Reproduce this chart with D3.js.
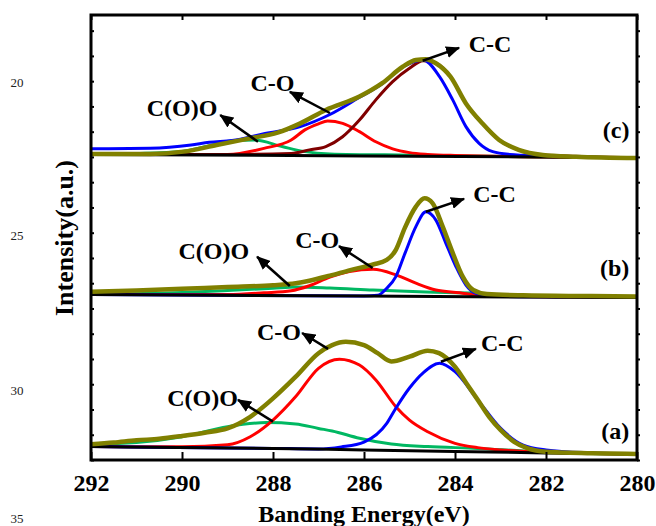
<!DOCTYPE html>
<html>
<head>
<meta charset="utf-8">
<script src="https://cdn.jsdelivr.net/npm/d3@7"></script>
<style>
  body { margin: 0; background: #fff; }
  svg { display: block; }
</style>
</head>
<body>
<svg id="xps-chart" width="656" height="526"></svg>
<script>
const energyTicks = [292, 290, 288, 286, 284, 282, 280];

// panel (a) - [binding energy, intensity]
const baselineA = [[292, 53], [288, 46], [286, 40], [284, 34], [282, 28], [280, 24]];
const ccA = [[292, 53], [288, 46], [287, 44], [286.5, 52], [286, 71], [285.5, 145], [285.3, 205], [285, 285], [284.7, 345], [284.34, 383], [284, 350], [283.5, 238], [283, 126], [282.5, 59], [282, 40], [281, 28], [280, 24]];
const coA = [[292, 53], [290, 52], [289, 60], [288.5, 92], [288, 158], [287.5, 251], [287, 363], [286.54, 399], [286.1, 376], [285.74, 317], [285.3, 211], [285, 158], [284.6, 112], [284, 66], [283.5, 49], [283, 40], [282, 31], [280, 24]];
const cooA = [[292, 62], [291, 69], [290, 92], [289, 132], [288.14, 148], [287.5, 143], [287, 125], [286.7, 115], [286.1, 86], [285.4, 63], [284.6, 53], [283.5, 46], [282.5, 36], [281.5, 28], [280, 24]];
const envelopeA = [[292, 62], [291.5, 69], [291, 78], [290.5, 84], [290, 95], [289.5, 108], [289, 125], [288.5, 171], [288, 244], [287.5, 330], [287, 423], [286.7, 455], [286.4, 468], [286, 455], [285.7, 423], [285.4, 390], [285, 409], [284.6, 433], [284.35, 423], [284, 369], [283.75, 304], [283.5, 238], [283.25, 171], [283, 119], [282.7, 72], [282.4, 46], [282, 33], [281, 27], [280, 24]];

// panel (b)
const baselineB = [[292, 655], [286, 649], [280, 643]];
const ccB = [[292, 655], [286, 649], [285.7, 652], [285.5, 680], [285.3, 726], [285.1, 818], [284.86, 924], [284.64, 983], [284.42, 950], [284.2, 858], [283.98, 766], [283.76, 693], [283.54, 660], [283.2, 649], [282, 646], [280, 643]];
const coB = [[292, 655], [289, 655], [288.2, 662], [287.6, 670], [287.2, 690], [286.75, 724], [286.32, 746], [285.8, 755], [285.3, 733], [284.86, 700], [284.42, 673], [283.9, 662], [283.5, 652], [282.5, 647], [280, 643]];
const cooB = [[292, 656], [290, 663], [289, 671], [288, 680], [287.5, 685], [286.75, 681], [285.8, 673], [284.64, 665], [283.54, 660], [283, 653], [282, 647], [280, 643]];
const envelopeB = [[292, 666], [291, 671], [290, 678], [289, 685], [288, 692], [287.5, 700], [287.2, 710], [286.75, 730], [286.3, 752], [285.8, 774], [285.5, 792], [285.3, 832], [285.1, 920], [284.86, 1003], [284.67, 1036], [284.49, 1016], [284.27, 924], [284.05, 820], [283.83, 726], [283.6, 673], [283.3, 657], [282.5, 652], [281, 649], [280, 647]];

// panel (c)
const baselineC = [[292, 1210], [286, 1204], [280, 1197]];
const ccC = [[292, 1210], [289, 1210], [287.6, 1214], [287.2, 1228], [286.84, 1241], [286.47, 1280], [286.1, 1346], [285.74, 1426], [285.37, 1498], [285, 1551], [284.7, 1581], [284.42, 1571], [284.1, 1518], [283.76, 1412], [283.4, 1333], [283.03, 1267], [282.6, 1228], [282.07, 1208], [280, 1197]];
const ccRawC = [[292, 1232], [290.7, 1234], [289.8, 1247], [289.4, 1258], [288.9, 1265], [288.2, 1292], [287.4, 1320], [286.75, 1368], [286.1, 1436], [285.6, 1490], [285.15, 1556], [284.7, 1584], [284.34, 1518], [284.05, 1426], [283.76, 1320], [283.47, 1254], [283.17, 1221], [282.8, 1210], [282.07, 1204], [281.3, 1200], [280, 1197]];
const coC = [[292, 1210], [289, 1210], [288.2, 1234], [287.6, 1267], [287.3, 1307], [287, 1331], [286.8, 1342], [286.47, 1333], [286.1, 1300], [285.74, 1260], [285.37, 1232], [285, 1217], [284.6, 1210], [284, 1206], [280, 1197]];
const cooC = [[292, 1211], [291, 1214], [290, 1222], [289.5, 1240], [288.9, 1264], [288.4, 1267], [287.8, 1241], [287.3, 1221], [286.75, 1212], [285, 1207], [282, 1200], [280, 1197]];
const envelopeC = [[292, 1212], [290.7, 1212], [289.97, 1221], [289.24, 1247], [288.5, 1274], [287.9, 1296], [287.4, 1333], [286.84, 1386], [286.1, 1439], [285.6, 1492], [285.15, 1557], [284.86, 1584], [284.64, 1587], [284.42, 1571], [284.1, 1518], [283.76, 1412], [283.4, 1333], [283.03, 1267], [282.6, 1228], [282.07, 1208], [281.34, 1201], [280, 1196]];

// drawing order: components, background line, envelope on top
const panels = [
    { name: "a", curves: [["coo", cooA], ["co", coA], ["cc", ccA], ["baseline", baselineA], ["envelope", envelopeA]] },
    { name: "b", curves: [["coo", cooB], ["co", coB], ["cc", ccB], ["baseline", baselineB], ["envelope", envelopeB]] },
    { name: "c", curves: [["coo", cooC], ["co", coC], ["cc2", ccC], ["cc", ccRawC], ["baseline", baselineC], ["envelope", envelopeC]] }
];

const annotations = [
    { label: "C-O", text: [287.87, 477], tail: [286.79, 440], head: [287.36, 503] },
    { label: "C(O)O", text: [289.55, 214], tail: [288.0, 152], head: [288.77, 238] },
    { label: "C-C", text: [282.96, 432], tail: [284.31, 389], head: [283.54, 440] },
    { label: "C(O)O", text: [289.3, 796], tail: [287.63, 689], head: [288.35, 805] },
    { label: "C-O", text: [287.03, 840], tail: [285.81, 760], head: [286.55, 847] },
    { label: "C-C", text: [283.13, 1022], tail: [284.64, 983], head: [283.8, 1034] },
    { label: "C(O)O", text: [290.0, 1362], tail: [288.33, 1260], head: [289.16, 1366] },
    { label: "C-O", text: [288.01, 1461], tail: [286.75, 1374], head: [287.63, 1458] },
    { label: "C-C", text: [283.23, 1616], tail: [284.71, 1581], head: [283.91, 1632] }
];
const panelLabels = [["(a)", 280.48, 83], ["(b)", 280.49, 729], ["(c)", 280.46, 1275]];
const strayNumbers = [["20", 87], ["25", 240], ["30", 395], ["35", 523]];

const curveStyle = {
    baseline: { color: "#000000", width: 3 },
    coo: { color: "#00b862", width: 3 },
    co: { color: "#ff0000", width: 3 },
    cc2: { color: "#800000", width: 3 },
    cc: { color: "#0000ff", width: 3 },
    envelope: { color: "#808000", width: 4.5 }
};

const font = "'Liberation Serif', 'Times New Roman', serif";

const svg = d3.select("#xps-chart");
const margin = { top: 15, right: 19, bottom: 66, left: 91 };
const width = 656 - margin.left - margin.right;
const height = 526 - margin.top - margin.bottom;

const x = d3.scaleLinear().domain([292, 280]).range([0, width]);
const y = d3.scaleLinear().domain([0, 1762]).range([height, 0]);

svg.append("defs").append("clipPath")
    .attr("id", "plot-clip")
    .append("rect")
    .attr("width", width)
    .attr("height", height);

svg.select("defs").append("marker")
    .attr("id", "arrow-head")
    .attr("markerUnits", "userSpaceOnUse")
    .attr("viewBox", "0 0 14 12")
    .attr("markerWidth", 14)
    .attr("markerHeight", 12)
    .attr("refX", 13)
    .attr("refY", 6)
    .attr("orient", "auto")
    .append("path")
    .attr("d", "M0,0 L14,6 L0,12 Z")
    .attr("fill", "#000");

const g = svg.append("g").attr("transform", `translate(${margin.left},${margin.top})`);

const line = d3.line()
    .x(d => x(d[0]))
    .y(d => y(d[1]))
    .curve(d3.curveMonotoneX);

const plot = g.append("g").attr("clip-path", "url(#plot-clip)");

panels.forEach(panel => {
    plot.append("g")
        .attr("class", `panel-${panel.name}`)
        .selectAll("path")
        .data(panel.curves)
        .join("path")
        .attr("d", d => line(d[1]))
        .attr("fill", "none")
        .attr("stroke", d => curveStyle[d[0]].color)
        .attr("stroke-width", d => curveStyle[d[0]].width)
        .attr("stroke-linejoin", "round")
        .attr("stroke-linecap", "round");
});

// Annotations
g.selectAll(".arrow")
    .data(annotations)
    .join("line")
    .attr("class", "arrow")
    .attr("x1", d => x(d.tail[0]))
    .attr("y1", d => y(d.tail[1]))
    .attr("x2", d => x(d.head[0]))
    .attr("y2", d => y(d.head[1]))
    .attr("stroke", "#000")
    .attr("stroke-width", 2.5)
    .attr("marker-end", "url(#arrow-head)");

g.selectAll(".peak-label")
    .data(annotations)
    .join("text")
    .attr("class", "peak-label")
    .attr("x", d => x(d.text[0]))
    .attr("y", d => y(d.text[1]))
    .attr("text-anchor", "middle")
    .attr("font-family", font)
    .attr("font-weight", "bold")
    .attr("font-size", 24)
    .text(d => d.label);

g.selectAll(".panel-label")
    .data(panelLabels)
    .join("text")
    .attr("class", "panel-label")
    .attr("x", d => x(d[1]))
    .attr("y", d => y(d[2]))
    .attr("text-anchor", "middle")
    .attr("font-family", font)
    .attr("font-weight", "bold")
    .attr("font-size", 24)
    .text(d => d[0]);

// Axes
const bottomAxis = g.append("g")
    .attr("transform", `translate(0,${height})`)
    .call(d3.axisBottom(x).tickValues(energyTicks).tickFormat(d3.format("d")).tickSizeInner(-8).tickSizeOuter(0).tickPadding(14));
bottomAxis.selectAll("text")
    .attr("font-family", font)
    .attr("font-weight", "bold")
    .attr("font-size", 24)
    .attr("fill", "#000");

g.append("g")
    .call(d3.axisTop(x).tickValues(energyTicks).tickFormat("").tickSizeInner(-5).tickSizeOuter(0));

g.append("g")
    .call(d3.axisLeft(y).ticks(18).tickFormat("").tickSizeInner(-3).tickSizeOuter(0));

g.append("g")
    .attr("transform", `translate(${width},0)`)
    .call(d3.axisRight(y).ticks(18).tickFormat("").tickSizeInner(3).tickSizeOuter(0));

g.selectAll(".tick line").attr("stroke", "#000").attr("stroke-width", 2);
g.selectAll(".domain").remove();

g.append("rect")
    .attr("width", width)
    .attr("height", height)
    .attr("fill", "none")
    .attr("stroke", "#000")
    .attr("stroke-width", 3);

// Axis titles
svg.append("text")
    .attr("x", margin.left + width / 2)
    .attr("y", 522)
    .attr("text-anchor", "middle")
    .attr("font-family", font)
    .attr("font-weight", "bold")
    .attr("font-size", 24)
    .text("Banding Energy(eV)");

svg.append("text")
    .attr("transform", `translate(73,${margin.top + 223}) rotate(-90)`)
    .attr("text-anchor", "middle")
    .attr("font-family", font)
    .attr("font-weight", "bold")
    .attr("font-size", 26)
    .text("Intensity(a.u.)");

svg.selectAll(".stray-number")
    .data(strayNumbers)
    .join("text")
    .attr("class", "stray-number")
    .attr("x", 17)
    .attr("y", d => d[1])
    .attr("text-anchor", "middle")
    .attr("font-family", font)
    .attr("font-size", 13)
    .attr("fill", "#222")
    .text(d => d[0]);
</script>
</body>
</html>
